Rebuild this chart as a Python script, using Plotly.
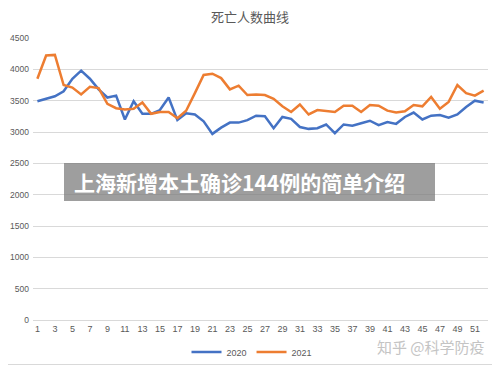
import plotly.graph_objects as go

weeks = list(range(1, 53))
deaths_2020 = [3490, 3530, 3570, 3650, 3850, 3980, 3850, 3680, 3550, 3580,
               3200, 3490, 3290, 3290, 3350, 3550, 3190, 3300, 3280, 3170,
               2970, 3070, 3150, 3150, 3190, 3260, 3250, 3060, 3240, 3210,
               3080, 3050, 3060, 3120, 2980, 3120, 3100, 3140, 3180, 3110,
               3160, 3130, 3240, 3310, 3200, 3260, 3270, 3230, 3280, 3400,
               3500, 3470]
deaths_2021 = [3850, 4220, 4230, 3750, 3710, 3600, 3720, 3700, 3450, 3380,
               3360, 3370, 3470, 3290, 3320, 3320, 3220, 3340, 3620, 3910,
               3930, 3860, 3680, 3740, 3590, 3600, 3590, 3530, 3410, 3320,
               3440, 3280, 3350, 3340, 3320, 3420, 3420, 3320, 3430, 3420,
               3340, 3310, 3330, 3430, 3410, 3560, 3370, 3480, 3750, 3620,
               3580, 3660]
x_ticks = list(range(1, 52, 2))
y_ticks = list(range(0, 4501, 500))

FONT = "Liberation Sans, Noto Sans CJK SC, sans-serif"
CJK = "Noto Sans CJK SC, sans-serif"
GRAY = "#595959"
GRID = "#d9d9d9"

fig = go.Figure()
fig.add_trace(go.Scatter(x=weeks, y=deaths_2020, mode="lines", name="2020",
                         line=dict(color="#4472C4", width=2.5)))
fig.add_trace(go.Scatter(x=weeks, y=deaths_2021, mode="lines", name="2021",
                         line=dict(color="#ED7D31", width=2.5)))

# page body has an 8px margin; the figure is sized to fill the rest of the window
OFF = 8
W, H = 500 - OFF, 366 - OFF
L, R, T, B = 33 - OFF, 12, 38 - OFF, 46
pw, ph = W - L - R, H - T - B

def px(x):
    # x: window pixel
    return (x - OFF - L) / pw

def py(y):
    # y: window pixel
    return (H - B - (y - OFF)) / ph

fig.update_layout(
    width=W, height=H,
    margin=dict(l=L, r=R, t=T, b=B, autoexpand=False),
    paper_bgcolor="white", plot_bgcolor="white",
    font=dict(family=FONT, color=GRAY, size=9),
    title=dict(text="死亡人数曲线", x=(250 - OFF) / W, xanchor="center",
               y=1 - (17 - OFF) / H, yanchor="middle",
               font=dict(family=CJK, size=13, color=GRAY)),
    showlegend=True,
    legend=dict(orientation="h", x=px(252), xanchor="center", y=py(352),
                yanchor="middle", font=dict(size=9, color=GRAY),
                bgcolor="rgba(0,0,0,0)"),
    xaxis=dict(range=[0.5, 52.5], tickmode="array", tickvals=x_ticks,
               ticktext=[str(t) for t in x_ticks], showgrid=False,
               showline=True, linecolor=GRID, linewidth=1, ticks="",
               zeroline=False, tickfont=dict(size=9, color=GRAY),
               automargin=False, fixedrange=True),
    yaxis=dict(range=[0, 4500], tickmode="array", tickvals=y_ticks,
               showgrid=True, gridcolor=GRID, gridwidth=1, zeroline=False,
               showline=False, ticks="", ticklabelstandoff=3,
               tickfont=dict(size=8.5, color=GRAY), automargin=False,
               fixedrange=True),
)

# outer frame (right and bottom edges visible in the window)
fig.add_shape(type="line", xref="paper", yref="paper",
              x0=px(498.5), x1=px(498.5), y0=py(365), y1=py(8),
              line=dict(color=GRID, width=1), layer="below")
fig.add_shape(type="line", xref="paper", yref="paper",
              x0=px(8), x1=px(499), y0=py(364.5), y1=py(364.5),
              line=dict(color=GRID, width=1), layer="below")

# overlay banner
fig.add_shape(type="rect", xref="paper", yref="paper",
              x0=px(64), x1=px(435), y0=py(201), y1=py(163),
              fillcolor="rgba(120,120,120,0.72)", line=dict(width=0),
              layer="above")
fig.add_annotation(text="<b>上海新增本土确诊144例的简单介绍</b>", xref="paper",
                   yref="paper", x=px(72), y=py(182), xanchor="left",
                   yanchor="middle", showarrow=False,
                   font=dict(family=CJK, size=21, color="white"))

# watermark
fig.add_annotation(text="知乎 @科学防疫", xref="paper", yref="paper",
                   x=px(487), y=py(346), xanchor="right", yanchor="middle",
                   showarrow=False,
                   font=dict(family=CJK, size=15, color="#c4c4c4"))

fig.write_html("out.html")
